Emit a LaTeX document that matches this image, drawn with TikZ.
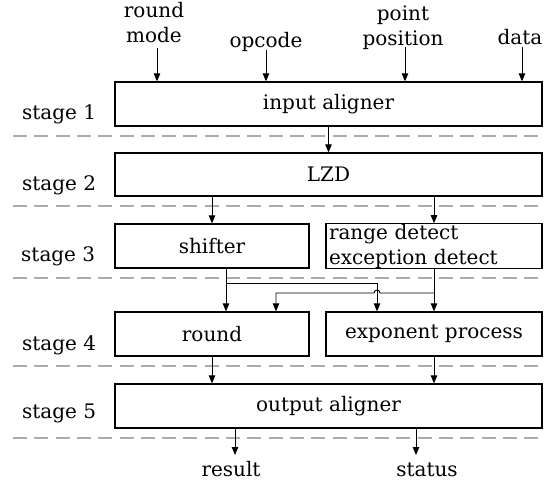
\documentclass[tikz,border=0pt]{standalone}
\usepackage{fontspec}
\setmainfont{DejaVu Serif}
\usetikzlibrary{arrows.meta}
\begin{document}
\begin{tikzpicture}[x=1pt,y=-1pt,
  font=\fontsize{20}{25}\selectfont,
  blk/.style={draw, line width=1.3pt, minimum height=44pt, inner sep=0pt},
  arr/.style={-{Triangle[length=8pt,width=6.5pt]}, line width=0.9pt},
  stgline/.style={dash pattern=on 14pt off 7.3pt, line width=2.8pt, color=black!33},
  lbl/.style={inner sep=0pt, align=center},
]
\useasboundingbox (0,0) rectangle (549,485);

% stage separators
\foreach \yy/\nm in {136/d1,206/d2,278/d3,366/d4,438/d5}{
  \coordinate (\nm a) at (13,\yy);
  \coordinate (\nm b) at (545,\yy);
  \draw[stgline] (\nm a) -- (\nm b);
}

% stage labels
\node[anchor=base west, inner sep=0pt] (s1) at (22,119) {stage 1};
\node[anchor=base west, inner sep=0pt] (s2) at (22,190) {stage 2};
\node[anchor=base west, inner sep=0pt] (s3) at (21,261) {stage 3};
\node[anchor=base west, inner sep=0pt] (s4) at (22,350) {stage 4};
\node[anchor=base west, inner sep=0pt] (s5) at (22,418) {stage 5};

% blocks
\node[blk, minimum width=427pt] (ia) at (328.5,104) {input aligner};
\node[blk, minimum width=427pt, minimum height=43pt] (lzd) at (328.5,174.5) {LZD};
\node[blk, minimum width=194pt] (sh) at (212,246) {shifter};
\node[blk, text width=210pt, align=left, inner xsep=3pt] (rd) at (434,246) {range detect\\exception detect};
\node[blk, minimum width=194pt] (rn) at (212,334) {round};
\node[blk, minimum width=216pt] (ep) at (434,334) {exponent process};
\node[blk, minimum width=427pt] (oa) at (328.5,406) {output aligner};

% input labels
\node[lbl, anchor=base] (rm) at (154,42) {round\\mode};
\node[lbl, anchor=base] (oc) at (266,47.5) {opcode};
\node[lbl, anchor=base] (pp) at (403,45) {point\\position};
\node[lbl, anchor=base] (dt) at (520,44) {data};
\coordinate (rmA) at (157,48);
\coordinate (ocA) at (266,50);
\coordinate (ppA) at (405,47);
\coordinate (dtA) at (522,47);
\draw[arr] (rmA) -- (rmA |- ia.north);
\draw[arr] (ocA) -- (ocA |- ia.north);
\draw[arr] (ppA) -- (ppA |- ia.north);
\draw[arr] (dtA) -- (dtA |- ia.north);

% stage 1 -> 2 -> 3
\draw[arr] (ia.south) -- (lzd.north);
\draw[arr] (sh.north |- lzd.south) -- (sh.north);
\draw[arr] (rd.north |- lzd.south) -- (rd.north);

% stage 3 -> 4
\draw[arr] ([xshift=14pt]sh.south) -- ([xshift=14pt]rn.north);
\coordinate (sj) at (226,283);
\draw[arr] (sj) -| ([xshift=-57pt]ep.north);
\draw[arr] (rd.south) -- (ep.north);
\coordinate (rj) at (434,293);
\draw[arr] (rj) -- (380,293) arc[start angle=0, end angle=180, radius=3pt]
  -- (276,293) -- ([xshift=64pt]rn.north);

% stage 4 -> 5
\draw[arr] (rn.south) -- (rn.south |- oa.north);
\draw[arr] (ep.south) -- (ep.south |- oa.north);

% outputs
\node[lbl, anchor=base] (res) at (231,476) {result};
\node[lbl, anchor=base] (st) at (427,476) {status};
\draw[arr] ([xshift=-93.5pt]oa.south) -- ([xshift=-93.5pt]oa.south |- 0,455);
\draw[arr] ([xshift=87.5pt]oa.south) -- ([xshift=87.5pt]oa.south |- 0,455);
\end{tikzpicture}
\end{document}
